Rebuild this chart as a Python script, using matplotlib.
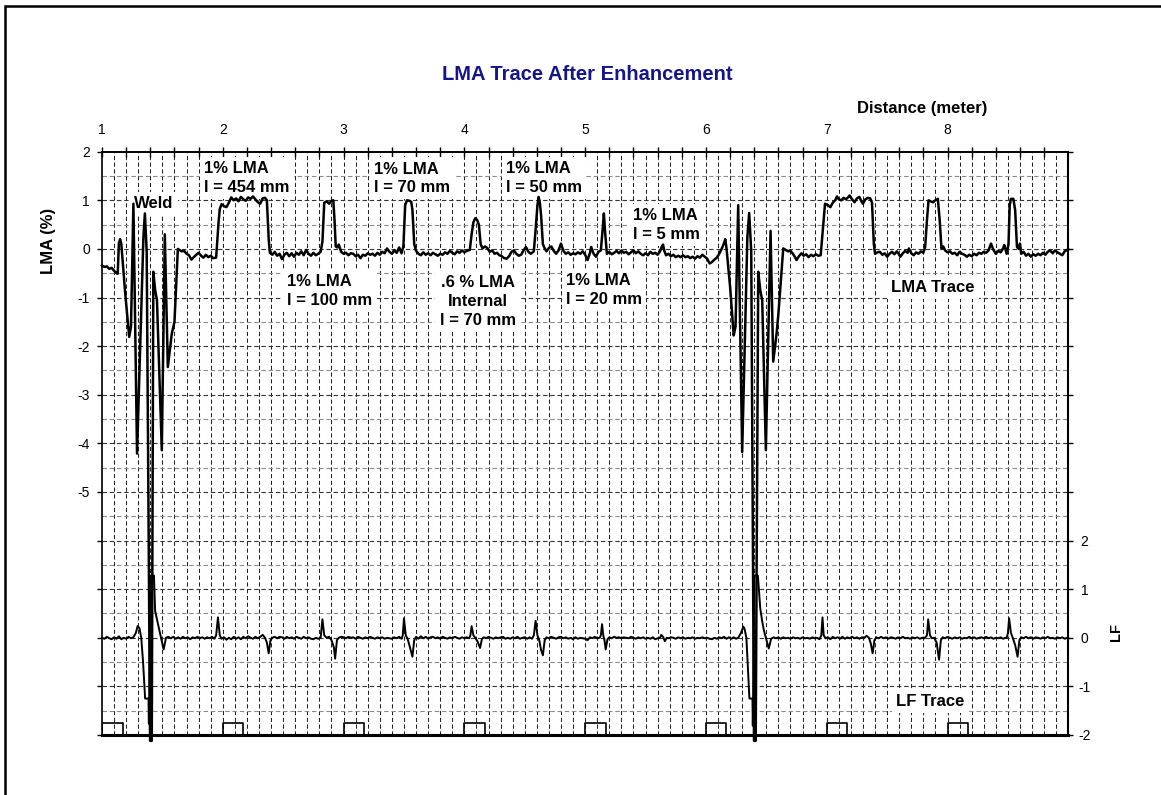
import numpy as np
import matplotlib
matplotlib.use("Agg")
import matplotlib.pyplot as plt
from matplotlib.patches import Rectangle

plt.rcParams['font.family'] = ['Liberation Sans', 'DejaVu Sans']

# LMA trace: (distance [m], LMA [%])
lma_points = [
    (1.00, -0.34), (1.02, -0.37), (1.04, -0.36), (1.06, -0.41), (1.08, -0.39), (1.10, -0.45),
    (1.12, -0.50), (1.13, -0.51), (1.14, 0.12), (1.15, 0.20), (1.16, 0.10), (1.19, -0.85),
    (1.225, -1.81), (1.24, -1.60), (1.26, 0.93), (1.29, -4.21), (1.343, 0.25), (1.355, 0.73),
    (1.37, -0.05), (1.398, -10.12), (1.412, -10.12), (1.425, -0.47), (1.44, -0.85), (1.455, -1.05),
    (1.495, -4.14), (1.52, 0.30), (1.545, -2.43), (1.578, -1.74), (1.60, -1.50), (1.628, 0.00),
    (1.64, -0.02), (1.66, -0.05), (1.68, -0.04), (1.70, -0.10), (1.72, -0.13), (1.74, -0.22),
    (1.76, -0.17), (1.78, -0.12), (1.80, -0.08), (1.82, -0.14), (1.84, -0.18), (1.86, -0.12),
    (1.88, -0.17), (1.90, -0.14), (1.92, -0.19), (1.945, -0.18),
    (1.965, 0.55), (1.975, 0.82), (1.99, 0.92), (2.01, 0.88), (2.03, 0.86), (2.05, 0.95),
    (2.07, 1.06), (2.09, 1.00), (2.11, 1.04), (2.13, 0.98), (2.15, 1.07), (2.17, 1.02),
    (2.19, 0.99), (2.21, 1.06), (2.23, 1.03), (2.25, 1.08), (2.27, 1.02), (2.29, 0.96),
    (2.31, 0.93), (2.33, 1.04), (2.35, 1.05), (2.365, 1.00),
    (2.38, 0.20), (2.39, -0.08), (2.41, -0.12), (2.43, -0.06), (2.45, -0.14), (2.47, -0.10),
    (2.49, -0.21), (2.51, -0.12), (2.53, -0.08), (2.55, -0.15), (2.57, -0.09), (2.59, -0.16),
    (2.61, -0.08), (2.63, -0.12), (2.65, -0.05), (2.67, -0.13), (2.69, -0.02), (2.71, -0.10),
    (2.73, -0.14), (2.75, -0.08), (2.77, -0.13), (2.79, -0.10), (2.81, -0.06),
    (2.825, 0.15), (2.84, 0.95), (2.86, 0.98), (2.88, 0.93), (2.90, 0.99), (2.915, 1.00),
    (2.925, 0.60), (2.935, 0.05), (2.95, 0.03), (2.96, 0.09), (2.98, -0.06), (3.00, -0.10),
    (3.02, -0.08), (3.04, -0.13), (3.06, -0.09), (3.08, -0.10), (3.10, -0.15), (3.12, -0.12),
    (3.14, -0.19), (3.16, -0.12), (3.18, -0.14), (3.20, -0.09), (3.22, -0.12), (3.24, -0.10),
    (3.26, -0.14), (3.28, -0.08), (3.30, -0.12), (3.32, -0.06), (3.34, -0.09), (3.36, 0.01),
    (3.38, -0.06), (3.40, -0.10), (3.42, -0.03), (3.44, -0.08), (3.46, 0.03), (3.48, -0.09),
    (3.495, 0.05), (3.51, 0.90), (3.525, 1.00), (3.545, 0.99), (3.56, 0.97), (3.57, 0.80),
    (3.585, 0.10), (3.60, -0.04), (3.62, -0.10), (3.64, -0.13), (3.66, -0.07), (3.68, -0.12),
    (3.70, -0.09), (3.72, -0.13), (3.74, -0.08), (3.76, -0.11), (3.78, -0.14), (3.80, -0.10),
    (3.82, -0.12), (3.84, -0.07), (3.86, -0.10), (3.88, -0.04), (3.90, -0.08), (3.92, -0.11),
    (3.94, -0.05), (3.96, -0.08), (3.98, -0.03), (4.00, -0.07), (4.02, -0.04), (4.045, -0.02),
    (4.06, 0.30), (4.075, 0.55), (4.09, 0.63), (4.105, 0.60), (4.12, 0.50), (4.135, 0.10),
    (4.15, 0.01), (4.17, 0.05), (4.19, 0.02), (4.21, -0.06), (4.23, -0.03), (4.25, -0.10),
    (4.27, -0.08), (4.29, -0.13), (4.31, -0.15), (4.33, -0.19), (4.35, -0.20), (4.37, -0.15),
    (4.39, -0.06), (4.41, -0.03), (4.43, -0.10), (4.45, -0.14), (4.47, -0.12), (4.49, -0.03),
    (4.51, 0.04), (4.53, -0.06), (4.55, -0.10), (4.575, -0.05),
    (4.59, 0.40), (4.605, 0.90), (4.615, 1.07), (4.625, 0.95), (4.635, 0.70), (4.65, 0.10),
    (4.665, 0.01), (4.68, -0.05), (4.70, 0.02), (4.72, 0.05), (4.74, -0.04), (4.76, -0.10),
    (4.78, -0.03), (4.80, 0.11), (4.82, -0.04), (4.84, -0.10), (4.86, -0.07), (4.88, -0.12),
    (4.90, -0.09), (4.92, -0.11), (4.94, -0.07), (4.96, -0.10), (4.98, -0.05), (5.00, -0.12),
    (5.02, -0.23), (5.04, -0.08), (5.05, 0.04), (5.07, -0.10), (5.09, -0.16), (5.11, -0.06),
    (5.13, -0.03), (5.145, 0.40), (5.155, 0.73), (5.165, 0.35), (5.18, -0.10), (5.20, -0.06),
    (5.22, -0.11), (5.24, -0.08), (5.26, -0.04), (5.28, -0.09), (5.30, -0.03), (5.32, -0.08),
    (5.34, -0.06), (5.36, -0.11), (5.38, -0.07), (5.40, -0.03), (5.42, -0.09), (5.44, -0.05),
    (5.46, -0.10), (5.48, -0.13), (5.50, -0.09), (5.52, -0.13), (5.54, -0.06), (5.56, -0.10),
    (5.58, -0.08), (5.60, -0.12), (5.62, -0.05), (5.635, 0.05), (5.645, 0.09), (5.655, -0.04),
    (5.67, -0.13), (5.69, -0.10), (5.71, -0.15), (5.73, -0.12), (5.75, -0.17), (5.77, -0.14),
    (5.79, -0.17), (5.81, -0.13), (5.83, -0.17), (5.85, -0.15), (5.87, -0.19), (5.89, -0.16),
    (5.91, -0.20), (5.93, -0.15), (5.95, -0.18), (5.97, -0.12), (5.99, -0.16), (6.01, -0.20),
    (6.03, -0.30), (6.05, -0.27), (6.07, -0.22), (6.09, -0.18), (6.11, -0.10), (6.13, 0.00),
    (6.15, 0.12), (6.16, 0.20), (6.17, 0.02), (6.20, -0.78), (6.23, -1.78), (6.245, -1.60),
    (6.267, 0.90), (6.30, -4.18), (6.343, 0.25), (6.358, 0.74), (6.375, -0.05), (6.398, -10.12),
    (6.412, -10.12), (6.433, -0.47), (6.45, -0.85), (6.466, -1.06), (6.496, -4.14), (6.535, 0.37),
    (6.557, -2.32), (6.585, -1.74), (6.60, -1.33), (6.64, 0.01),
    (6.66, -0.02), (6.68, -0.05), (6.70, -0.04), (6.72, -0.10), (6.74, -0.18), (6.75, -0.23),
    (6.77, -0.15), (6.79, -0.09), (6.81, -0.14), (6.83, -0.11), (6.85, -0.17), (6.87, -0.12),
    (6.89, -0.15), (6.91, -0.11), (6.93, -0.14), (6.95, -0.13),
    (6.975, 0.60), (6.986, 0.93), (7.01, 0.90), (7.03, 0.86), (7.05, 0.95), (7.07, 1.00),
    (7.085, 1.08), (7.10, 1.02), (7.12, 1.00), (7.14, 1.05), (7.16, 1.02), (7.18, 1.07),
    (7.19, 1.10), (7.21, 1.02), (7.23, 0.96), (7.25, 1.04), (7.27, 1.07), (7.285, 0.99),
    (7.30, 0.93), (7.32, 1.02), (7.34, 1.05), (7.36, 1.04), (7.375, 0.95),
    (7.39, 0.10), (7.40, -0.10), (7.42, -0.07), (7.44, -0.06), (7.46, -0.12), (7.48, -0.09),
    (7.50, -0.16), (7.52, -0.10), (7.54, -0.06), (7.56, -0.11), (7.58, -0.05), (7.60, -0.12),
    (7.61, -0.16), (7.63, -0.09), (7.65, -0.04), (7.67, -0.08), (7.68, 0.01), (7.70, -0.09),
    (7.72, -0.13), (7.74, -0.07), (7.76, -0.10), (7.78, -0.05), (7.80, -0.08), (7.815, 0.04),
    (7.83, 0.60), (7.843, 1.00), (7.86, 0.98), (7.88, 0.96), (7.90, 1.00), (7.92, 1.03),
    (7.935, 0.60), (7.95, 0.01), (7.965, 0.05), (7.98, -0.03), (8.00, -0.07), (8.02, -0.05),
    (8.04, -0.10), (8.06, -0.08), (8.08, -0.13), (8.10, -0.06), (8.12, -0.10), (8.14, -0.12),
    (8.16, -0.16), (8.18, -0.12), (8.20, -0.15), (8.22, -0.10), (8.24, -0.13), (8.26, -0.08),
    (8.28, -0.10), (8.30, -0.06), (8.32, -0.08), (8.34, -0.03), (8.36, 0.11), (8.38, -0.02),
    (8.40, -0.10), (8.42, -0.04), (8.44, -0.07), (8.46, 0.01), (8.47, 0.08), (8.49, -0.10),
    (8.505, 0.10), (8.515, 0.90), (8.525, 1.03), (8.545, 1.03), (8.56, 0.80), (8.575, 0.04),
    (8.59, 0.00), (8.60, 0.11), (8.61, -0.10), (8.63, -0.06), (8.65, -0.14), (8.67, -0.10),
    (8.69, -0.16), (8.71, -0.11), (8.73, -0.14), (8.75, -0.10), (8.77, -0.13), (8.79, -0.08),
    (8.81, -0.12), (8.83, -0.06), (8.85, -0.03), (8.87, -0.09), (8.89, -0.03), (8.91, -0.07),
    (8.93, -0.10), (8.95, -0.13), (8.97, -0.05), (8.99, -0.02), (9.00, -0.01),
]

# LF trace: (distance [m], LF)
lf_points = [
    (1.00, 0.00), (1.02, -0.02), (1.04, 0.02), (1.06, -0.01), (1.08, -0.03), (1.10, 0.01),
    (1.12, -0.02), (1.14, 0.03), (1.16, -0.03), (1.18, 0.00), (1.20, -0.02), (1.22, 0.02),
    (1.24, -0.01), (1.26, 0.01), (1.28, 0.10), (1.295, 0.24), (1.31, 0.20), (1.325, 0.00),
    (1.34, -0.50), (1.357, -1.25), (1.385, -1.25), (1.388, -1.77), (1.392, -1.20), (1.40, 1.28),
    (1.43, 1.28), (1.44, 0.55), (1.455, 0.38), (1.47, 0.20), (1.51, -0.24), (1.53, 0.00),
    (1.55, 0.02), (1.57, -0.01), (1.59, 0.02), (1.61, -0.02), (1.63, 0.01), (1.65, -0.02),
    (1.67, 0.02), (1.69, -0.01), (1.71, 0.01), (1.73, -0.03), (1.75, 0.01), (1.77, -0.01),
    (1.79, 0.02), (1.81, -0.01), (1.83, 0.01), (1.85, -0.02), (1.87, 0.01), (1.89, -0.01),
    (1.91, 0.02), (1.93, -0.02), (1.945, 0.05), (1.96, 0.42), (1.975, 0.05), (1.99, -0.02),
    (2.01, 0.01), (2.03, -0.04), (2.05, 0.00), (2.07, -0.03), (2.09, 0.02), (2.11, -0.02),
    (2.13, 0.01), (2.15, -0.03), (2.17, 0.02), (2.19, -0.01), (2.21, 0.03), (2.23, 0.00),
    (2.25, -0.02), (2.27, 0.02), (2.29, -0.01), (2.31, 0.02), (2.33, 0.06), (2.35, 0.00),
    (2.365, -0.10), (2.38, -0.32), (2.395, -0.05), (2.41, 0.00), (2.43, 0.02), (2.45, -0.01),
    (2.47, 0.02), (2.49, 0.01), (2.51, -0.02), (2.53, 0.02), (2.55, -0.01), (2.57, 0.01),
    (2.59, -0.02), (2.61, 0.02), (2.63, 0.00), (2.65, -0.02), (2.67, 0.02), (2.69, -0.01),
    (2.71, 0.01), (2.73, -0.02), (2.75, -0.03), (2.77, 0.00), (2.79, -0.02), (2.81, 0.00),
    (2.825, 0.38), (2.84, 0.05), (2.86, 0.00), (2.88, 0.02), (2.90, -0.05), (2.92, -0.20),
    (2.93, -0.43), (2.945, -0.05), (2.96, 0.00), (2.98, 0.02), (3.00, 0.01), (3.02, -0.01),
    (3.04, 0.02), (3.06, 0.00), (3.08, 0.01), (3.10, -0.02), (3.12, 0.02), (3.14, 0.00),
    (3.16, -0.02), (3.18, 0.01), (3.20, -0.01), (3.22, 0.02), (3.24, 0.00), (3.26, -0.02),
    (3.28, 0.01), (3.30, -0.01), (3.32, 0.01), (3.34, -0.02), (3.36, 0.00), (3.38, -0.01),
    (3.40, -0.02), (3.42, 0.01), (3.44, -0.01), (3.46, 0.02), (3.48, -0.02), (3.49, 0.05),
    (3.50, 0.40), (3.515, 0.05), (3.53, -0.02), (3.55, -0.20), (3.57, -0.39), (3.585, -0.05),
    (3.60, 0.02), (3.62, -0.02), (3.64, 0.03), (3.66, -0.01), (3.68, 0.02), (3.70, -0.02),
    (3.72, 0.01), (3.74, 0.02), (3.76, -0.01), (3.78, 0.01), (3.80, -0.02), (3.82, 0.02),
    (3.84, 0.00), (3.86, -0.02), (3.88, 0.01), (3.90, -0.01), (3.92, 0.02), (3.94, 0.00),
    (3.96, -0.02), (3.98, 0.01), (4.00, -0.01), (4.02, 0.01), (4.04, -0.01), (4.05, 0.05),
    (4.06, 0.24), (4.075, 0.05), (4.09, 0.00), (4.11, -0.08), (4.13, -0.21), (4.145, -0.03),
    (4.16, 0.01), (4.18, -0.01), (4.20, 0.02), (4.22, 0.00), (4.24, -0.02), (4.26, 0.01),
    (4.28, -0.01), (4.30, 0.01), (4.32, 0.02), (4.34, -0.02), (4.36, 0.00), (4.38, -0.02),
    (4.40, 0.01), (4.42, -0.01), (4.44, 0.02), (4.46, -0.02), (4.48, 0.00), (4.50, 0.01),
    (4.52, -0.02), (4.54, 0.01), (4.56, -0.02), (4.575, 0.05), (4.59, 0.35), (4.605, 0.05),
    (4.62, -0.05), (4.635, -0.25), (4.65, -0.36), (4.665, -0.05), (4.68, 0.01), (4.70, -0.01),
    (4.72, 0.02), (4.74, 0.00), (4.76, -0.02), (4.78, 0.01), (4.80, 0.02), (4.82, -0.01),
    (4.84, 0.01), (4.86, -0.02), (4.88, 0.00), (4.90, -0.03), (4.92, 0.01), (4.94, -0.02),
    (4.96, 0.00), (4.98, -0.01), (5.00, -0.02), (5.02, -0.05), (5.04, 0.01), (5.06, -0.01),
    (5.08, 0.02), (5.10, -0.01), (5.12, 0.00), (5.13, 0.05), (5.14, 0.28), (5.15, 0.05),
    (5.16, -0.05), (5.17, -0.24), (5.185, -0.03), (5.20, 0.01), (5.22, -0.01), (5.24, 0.02),
    (5.26, 0.00), (5.28, 0.01), (5.30, -0.01), (5.32, 0.01), (5.34, 0.00), (5.36, -0.01),
    (5.38, 0.02), (5.40, 0.00), (5.42, -0.02), (5.44, 0.01), (5.46, -0.01), (5.48, 0.01),
    (5.50, -0.02), (5.52, 0.00), (5.54, -0.02), (5.56, 0.01), (5.58, -0.03), (5.60, -0.01),
    (5.62, 0.00), (5.63, 0.06), (5.645, 0.02), (5.66, -0.07), (5.675, 0.00), (5.69, -0.01),
    (5.71, 0.01), (5.73, 0.00), (5.75, -0.02), (5.77, 0.01), (5.79, -0.01), (5.81, 0.01),
    (5.83, -0.02), (5.85, 0.00), (5.87, -0.01), (5.89, 0.01), (5.91, -0.02), (5.93, 0.00),
    (5.95, -0.01), (5.97, 0.01), (5.99, -0.01), (6.01, 0.00), (6.03, -0.02), (6.05, -0.03),
    (6.07, 0.00), (6.09, -0.02), (6.11, 0.01), (6.13, -0.01), (6.15, 0.02), (6.17, -0.02),
    (6.19, 0.01), (6.21, -0.02), (6.23, 0.01), (6.25, -0.02), (6.27, 0.01), (6.29, 0.10),
    (6.31, 0.23), (6.32, 0.18), (6.335, 0.00), (6.345, -0.50), (6.36, -1.25), (6.385, -1.25),
    (6.388, -1.81), (6.392, -1.20), (6.40, 1.28), (6.43, 1.28), (6.45, 0.60), (6.465, 0.35),
    (6.48, 0.15), (6.52, -0.22), (6.54, -0.02), (6.56, 0.01), (6.58, -0.01), (6.60, 0.01),
    (6.62, -0.02), (6.64, 0.01), (6.66, -0.01), (6.68, 0.00), (6.70, -0.02), (6.72, 0.01),
    (6.74, -0.01), (6.76, 0.00), (6.78, -0.02), (6.80, 0.01), (6.82, -0.01), (6.84, 0.00),
    (6.86, -0.02), (6.88, 0.01), (6.90, -0.01), (6.92, 0.00), (6.94, -0.03), (6.955, 0.05),
    (6.965, 0.42), (6.975, 0.05), (6.99, -0.01), (7.01, 0.01), (7.03, -0.03), (7.05, 0.02),
    (7.07, -0.01), (7.09, 0.01), (7.11, -0.02), (7.13, 0.02), (7.15, -0.02), (7.17, 0.01),
    (7.19, -0.01), (7.21, 0.02), (7.23, -0.01), (7.25, 0.01), (7.27, -0.02), (7.29, 0.01),
    (7.31, 0.00), (7.33, 0.04), (7.35, 0.00), (7.365, -0.12), (7.38, -0.32), (7.395, -0.05),
    (7.41, 0.01), (7.43, -0.01), (7.45, 0.02), (7.47, -0.01), (7.49, 0.01), (7.51, -0.02),
    (7.53, 0.01), (7.55, 0.00), (7.57, -0.02), (7.59, 0.01), (7.61, -0.01), (7.63, 0.02),
    (7.65, -0.01), (7.67, 0.00), (7.69, -0.02), (7.71, 0.01), (7.73, -0.01), (7.75, 0.01),
    (7.77, -0.02), (7.79, 0.00), (7.81, -0.01), (7.83, 0.05), (7.84, 0.38), (7.855, 0.05),
    (7.87, -0.01), (7.89, 0.00), (7.91, -0.10), (7.93, -0.45), (7.945, -0.05), (7.96, 0.01),
    (7.98, -0.01), (8.00, 0.02), (8.02, 0.00), (8.04, -0.02), (8.06, 0.01), (8.08, -0.01),
    (8.10, 0.01), (8.12, -0.02), (8.14, 0.00), (8.16, -0.01), (8.18, 0.02), (8.20, -0.01),
    (8.22, 0.01), (8.24, -0.02), (8.26, 0.00), (8.28, 0.01), (8.30, -0.01), (8.32, 0.02),
    (8.34, -0.01), (8.36, 0.01), (8.38, -0.02), (8.40, 0.00), (8.42, -0.01), (8.44, 0.01),
    (8.46, -0.02), (8.48, 0.00), (8.49, 0.00), (8.50, 0.10), (8.51, 0.40), (8.525, 0.10),
    (8.54, 0.00), (8.56, -0.15), (8.58, -0.39), (8.595, -0.05), (8.61, 0.01), (8.63, -0.01),
    (8.65, 0.02), (8.67, -0.01), (8.69, 0.01), (8.71, -0.02), (8.73, 0.01), (8.75, 0.00),
    (8.77, -0.02), (8.79, 0.01), (8.81, -0.01), (8.83, 0.02), (8.85, -0.01), (8.87, 0.00),
    (8.89, -0.02), (8.91, 0.01), (8.93, -0.01), (8.95, 0.01), (8.97, -0.02), (8.99, 0.00),
    (9.00, 0.00),
]

# distance marker pulses at the bottom of the LF axis
odometer_marks = [1, 2, 3, 4, 5, 6, 7, 8]
mark_width = 0.17
mark_base = -2.0
mark_top = -1.75

# annotations: (x, y, text, horizontal alignment)
lma_labels = [
    (1.43, 0.94, "Weld", "center"),
    (1.846, 1.46, "1% LMA\nl = 454 mm", "left"),
    (3.25, 1.45, "1% LMA\nl = 70 mm", "left"),
    (4.344, 1.46, "1% LMA\nl = 50 mm", "left"),
    (5.40, 0.49, "1% LMA\nl = 5 mm", "left"),
    (2.533, -0.86, "1% LMA\nl = 100 mm", "left"),
    (4.11, -1.08, ".6 % LMA\nInternal\nl = 70 mm", "center"),
    (4.842, -0.85, "1% LMA\nl = 20 mm", "left"),
    (7.88, -0.80, "LMA Trace", "center"),
]
lf_labels = [
    (7.86, -1.31, "LF Trace", "center"),
]

x_labels = [1, 2, 3, 4, 5, 6, 7, 8]
lma_tick_labels = [-5, -4, -3, -2, -1, 0, 1, 2]
lf_tick_labels = [-2, -1, 0, 1, 2]

W, H = 1161, 795
fig = plt.figure(figsize=(W / 100, H / 100), dpi=100)
fig.patch.set_facecolor("white")

# outer frame
fig.add_artist(Rectangle((5.3 / W, -0.05), 1.2, 1.05 - 6.2 / H, transform=fig.transFigure,
                         fill=False, edgecolor="black", linewidth=1.8))

ax = fig.add_axes([102 / W, 1 - 735 / H, (1068.3 - 102) / W, (735 - 151.7) / H])
ax.set_xlim(1, 9)
ax.set_ylim(-10, 2)

# grid: vertical every 0.1 m, horizontal every 0.5 %
dash = (0, (4, 2.5))
for xv in np.arange(1.1, 8.95, 0.1):
    ax.axvline(xv, color="#222222", lw=0.75, linestyle=dash, zorder=1)
for yv in np.arange(-9.5, 1.6, 0.5):
    is_int = abs(yv - round(yv)) < 1e-6
    ax.axhline(yv, color="#333333" if is_int else "#8a8a8a", lw=0.8, linestyle=dash, zorder=1)

lma_x, lma_y = zip(*lma_points)
ax.plot(lma_x, lma_y, color="black", lw=1.8, zorder=5, clip_on=False)

# top distance axis
ax.xaxis.tick_top()
ax.set_xticks(x_labels)
ax.set_xticklabels([str(v) for v in x_labels])
ax.set_xticks([v for v in np.arange(1.2, 8.9, 0.2) if abs(v - round(v)) > 1e-6], minor=True)
ax.tick_params(axis="x", which="both", direction="inout", length=7, width=1.0,
               pad=7, labelsize=10, bottom=False, labelbottom=False)

# left LMA axis
ax.set_yticks(range(-10, 3))
ax.set_yticklabels([str(v) if v in lma_tick_labels else "" for v in range(-10, 3)])
ax.tick_params(axis="y", which="both", direction="out", length=3.6, width=1.0, pad=5, labelsize=10)

for side, lw in [("top", 1.4), ("left", 1.2), ("right", 1.5), ("bottom", 2.2)]:
    ax.spines[side].set_linewidth(lw)

# right LF axis
ax2 = ax.twinx()
ax2.set_ylim(-2, 10)
lf_x, lf_y = zip(*lf_points)
ax2.plot(lf_x, lf_y, color="black", lw=1.4, zorder=5, clip_on=False)
for d in odometer_marks:
    ax2.plot([d, d, d + mark_width, d + mark_width], [mark_base, mark_top, mark_top, mark_base],
             color="black", lw=1.2, zorder=4)
ax2.set_yticks(range(-2, 11))
ax2.set_yticklabels([str(v) if v in lf_tick_labels else "" for v in range(-2, 11)])
ax2.tick_params(axis="y", direction="out", length=3.6, width=1.0, pad=8, labelsize=10)
plt.setp(ax2.get_yticklabels(), ha="center")
for s in ax2.spines.values():
    s.set_visible(False)

box = dict(facecolor="white", edgecolor="none", pad=3)
for x, y, s, ha in lma_labels:
    ax.text(x, y, s, ha=ha, va="center", fontsize=12, fontweight="bold",
            linespacing=1.3, multialignment=ha, bbox=box, zorder=4)
for x, y, s, ha in lf_labels:
    ax2.text(x, y, s, ha=ha, va="center", fontsize=12, fontweight="bold", bbox=box, zorder=4)

fig.text(587 / W, 1 - 75 / H, "LMA Trace After Enhancement", ha="center", va="center",
         fontsize=14.5, fontweight="bold", color="#14148c")
fig.text(922 / W, 1 - 109 / H, "Distance (meter)", ha="center", va="center",
         fontsize=12, fontweight="bold")
fig.text(48 / W, 1 - 241 / H, "LMA (%)", ha="center", va="center", rotation=90,
         fontsize=12, fontweight="bold")
fig.text(1116 / W, 1 - 632 / H, "LF", ha="center", va="center", rotation=90,
         fontsize=10.5, fontweight="bold")

fig.savefig("out.png", dpi=100)
